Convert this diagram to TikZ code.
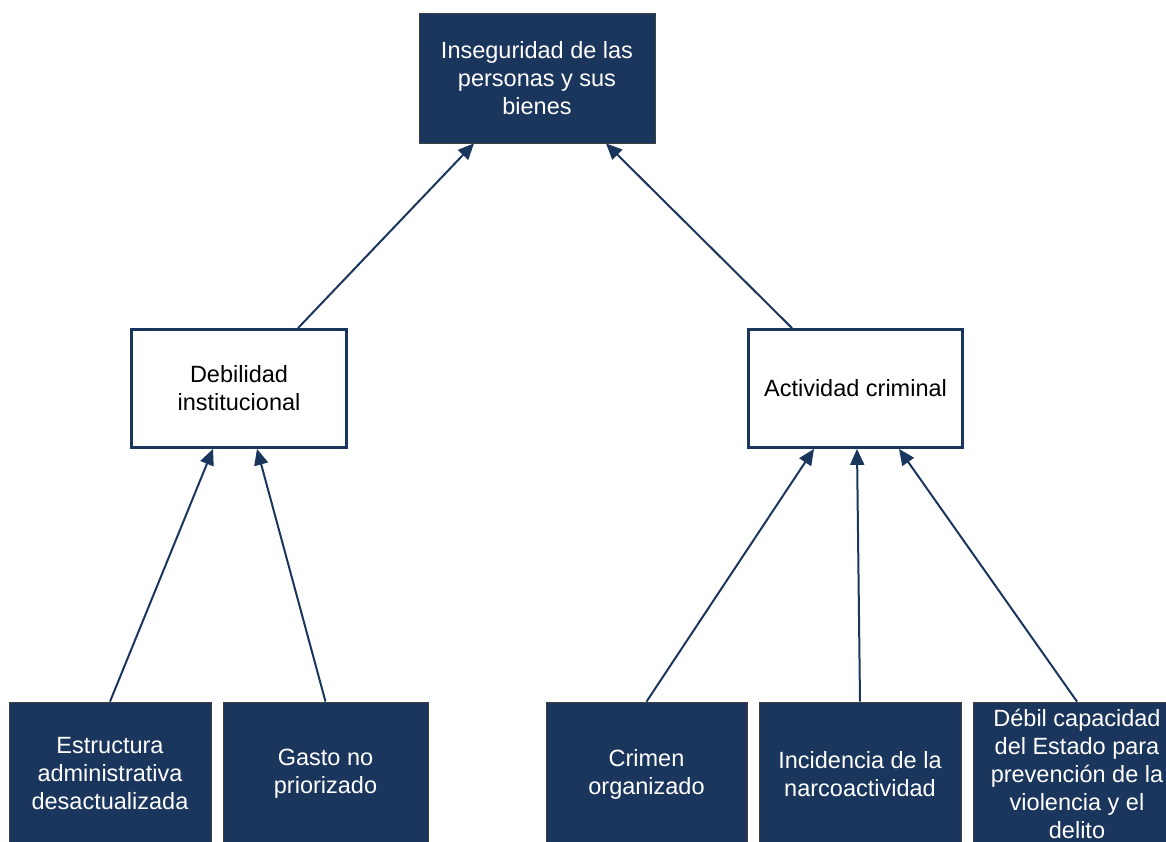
\documentclass[tikz,border=0pt]{standalone}
\usepackage{fontspec}
\setmainfont{Liberation Sans}
\usetikzlibrary{arrows.meta}
\definecolor{navy}{HTML}{1B365D}

\begin{document}
\begin{tikzpicture}[x=1pt,y=-1pt,
  dark/.style={draw=black!75,line width=0.8pt,fill=navy,text=white,align=center,
    inner sep=0pt,font=\fontsize{23.5}{28}\selectfont},
  light/.style={draw=navy,line width=2.8pt,fill=white,text=black,align=center,
    inner sep=0pt,font=\fontsize{23.5}{28}\selectfont},
  link/.style={navy,line width=2pt,-{Triangle[length=16pt,width=14pt]}}]
\clip (0,0) rectangle (1166,842);

% effect
\node [dark,minimum width=236pt,minimum height=130pt] (ins) at (537,78)
  {Inseguridad de las\\personas y sus\\bienes};

% causes
\node [light,minimum width=215pt,minimum height=118pt] (deb) at (239,388.5)
  {Debilidad\\institucional};
\node [light,minimum width=214pt,minimum height=118pt] (act) at (855.5,388.5)
  {Actividad criminal};

% root causes
\node [dark,minimum width=202pt,minimum height=144pt] (est) at (110,774)
  {Estructura\\administrativa\\desactualizada};
\node [dark,minimum width=205pt,minimum height=144pt] (gas) at (325.5,774)
  {Gasto no\\priorizado};
\node [dark,minimum width=201pt,minimum height=144pt] (cri) at (646.5,774)
  {Crimen\\organizado};
\node [dark,minimum width=202pt,minimum height=144pt] (inc) at (860,774)
  {Incidencia de la\\narcoactividad};
\node [dark,minimum width=208pt,minimum height=144pt] (dcap) at (1077,774)
  {Débil capacidad\\del Estado para\\prevención de la\\violencia y el\\delito};

\draw [link] ([xshift=59pt]deb.north) -- ([xshift=-63pt]ins.south);
\draw [link] ([xshift=-63.5pt]act.north) -- ([xshift=69pt]ins.south);
\draw [link] (est.north) -- ([xshift=-26pt]deb.south);
\draw [link] (gas.north) -- ([xshift=18pt]deb.south);
\draw [link] (cri.north) -- ([xshift=-41.5pt]act.south);
\draw [link] (inc.north) -- ([xshift=1.5pt]act.south);
\draw [link] (dcap.north) -- ([xshift=43.5pt]act.south);
\end{tikzpicture}
\end{document}
